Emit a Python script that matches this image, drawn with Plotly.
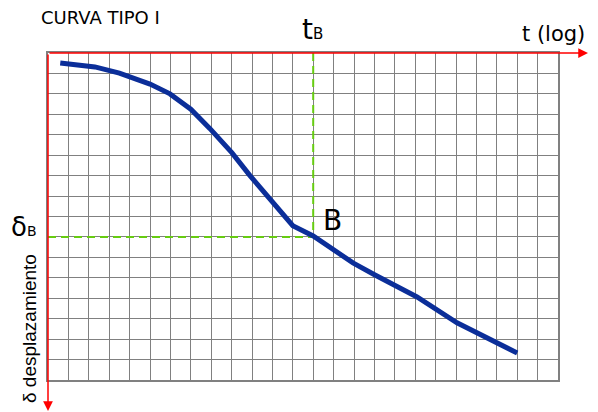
import plotly.graph_objects as go

# Curve read in grid units (x: columns from left, y: rows from top)
t_vals = [0.6, 2.3, 3.5, 5.0, 5.98, 7.0, 7.94, 9.02, 9.9, 10.9, 12.0, 13.0, 14.95, 16.03, 18.09, 20.05, 23.0]
d_vals = [0.49, 0.68, 0.98, 1.52, 2.0, 2.75, 3.7, 4.89, 6.0, 7.2, 8.45, 8.95, 10.27, 10.86, 11.94, 13.2, 14.68]
t_B = 13.0
d_B = 9.0
n_cols = 25
n_rows = 16

title_text = "CURVA TIPO I"
x_label = "t (log)"
y_label = "δ desplazamiento"

fig = go.Figure()

# dashed guides to B
fig.add_trace(go.Scatter(x=[t_B, t_B], y=[0, d_B], mode="lines",
                         line=dict(color="#66cc11", width=2, dash="8px,5px"),
                         hoverinfo="skip", showlegend=False))
fig.add_trace(go.Scatter(x=[0, t_B], y=[d_B, d_B], mode="lines",
                         line=dict(color="#66cc11", width=2, dash="8px,5px"),
                         hoverinfo="skip", showlegend=False))
# curve
fig.add_trace(go.Scatter(x=t_vals, y=d_vals, mode="lines",
                         line=dict(color="#0b2e99", width=5),
                         showlegend=False))

W, H = 598, 412
ml, mr, mt, mb = 48, 40, 53, 32
pw = W - ml - mr
ph = H - mt - mb

fig.update_layout(
    width=W, height=H,
    margin=dict(l=ml, r=mr, t=mt, b=mb),
    paper_bgcolor="white", plot_bgcolor="white",
    font=dict(family="DejaVu Sans", color="black"),
    xaxis=dict(range=[0, n_cols], dtick=1, tick0=0, showgrid=True,
               gridcolor="#808080", gridwidth=1, zeroline=False,
               showticklabels=False, ticks="", showline=True,
               linecolor="#808080", linewidth=1.5, mirror=True, fixedrange=True),
    yaxis=dict(range=[n_rows, 0], dtick=1, tick0=0, showgrid=True,
               gridcolor="#808080", gridwidth=1, zeroline=False,
               showticklabels=False, ticks="", showline=True,
               linecolor="#808080", linewidth=1.5, mirror=True, fixedrange=True),
)

top_end = (588 - ml) / pw
left_end = 1 - (411 - mt) / ph

def py(v):
    return 1 - (v - mt) / ph

def px(v):
    return (v - ml) / pw

annotations = [
    # red top axis arrow
    dict(x=top_end, y=1, xref="paper", yref="paper", ax=-(588 - ml), ay=0,
         axref="pixel", ayref="pixel", showarrow=True, arrowhead=2,
         arrowsize=1.3, arrowwidth=1.5, arrowcolor="#ff0000", text=""),
    # red left axis arrow
    dict(x=0, y=left_end, xref="paper", yref="paper", ax=0, ay=-(411 - mt),
         axref="pixel", ayref="pixel", showarrow=True, arrowhead=2,
         arrowsize=1.3, arrowwidth=1.5, arrowcolor="#ff0000", text=""),
    dict(x=px(39), y=py(18), xref="paper", yref="paper",
         text=title_text, showarrow=False, xanchor="left", yanchor="middle",
         font=dict(size=18)),
    dict(x=px(587), y=py(34), xref="paper", yref="paper",
         text=x_label, showarrow=False, xanchor="right", yanchor="middle",
         font=dict(size=21)),
    dict(x=t_B - 0.05, y=py(48), xref="x", yref="paper",
         text="t<span style='font-size:15px'>B</span>", showarrow=False,
         xanchor="center", yanchor="bottom", font=dict(size=28)),
    dict(x=px(321), y=py(220), xref="paper", yref="paper",
         text="B", showarrow=False, xanchor="left", yanchor="middle",
         font=dict(size=28)),
    dict(x=px(9), y=py(244), xref="paper", yref="paper",
         text="δ<span style='font-size:14px'>B</span>", showarrow=False,
         xanchor="left", yanchor="bottom", font=dict(size=26)),
    dict(x=px(29), y=py(329), xref="paper", yref="paper",
         text=y_label, showarrow=False, textangle=-90, xanchor="center",
         yanchor="middle", font=dict(size=19, family="Liberation Sans")),
]
fig.update_layout(annotations=annotations)

fig.write_html("out.html", config={"displayModeBar": False},
               post_script="document.body.style.margin='0';")
